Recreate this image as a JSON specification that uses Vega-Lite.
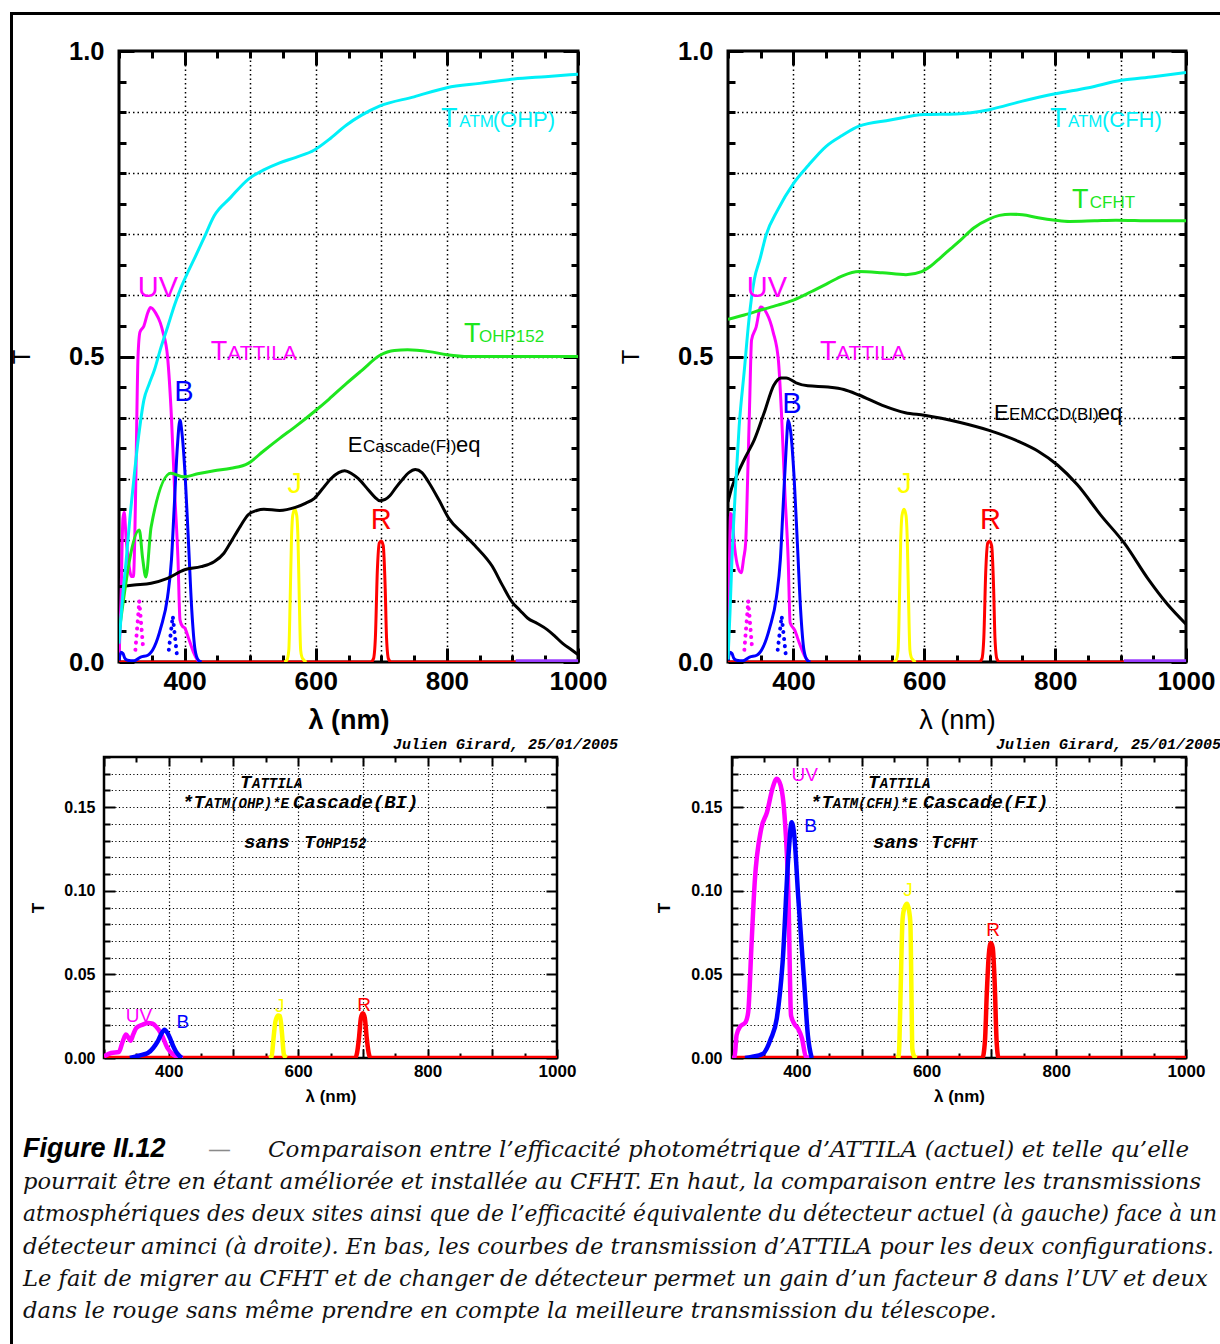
{
  "$schema": "https://vega.github.io/schema/vega-lite/v6.json",
  "background": "white",
  "padding": {"left": 9, "top": 12, "right": 0, "bottom": 0},
  "config": {"view": {"stroke": null}},
  "datasets": {
    "tl": [
      {"s":"R","x":300,"y":0},{"s":"R","x":684,"y":0},{"s":"R","x":688,"y":0.005},{"s":"R","x":691,"y":0.04},{"s":"R","x":694,"y":0.15},{"s":"R","x":697,"y":0.195},{"s":"R","x":700,"y":0.198},{"s":"R","x":703,"y":0.19},{"s":"R","x":706,"y":0.12},{"s":"R","x":708,"y":0.04},{"s":"R","x":711,"y":0.005},{"s":"R","x":715,"y":0},{"s":"R","x":1000,"y":0},
      {"s":"J","x":552,"y":0},{"s":"J","x":556,"y":0.003},{"s":"J","x":559,"y":0.02},{"s":"J","x":561,"y":0.1},{"s":"J","x":563,"y":0.2},{"s":"J","x":565,"y":0.24},{"s":"J","x":568,"y":0.25},{"s":"J","x":571,"y":0.24},{"s":"J","x":573,"y":0.2},{"s":"J","x":575,"y":0.1},{"s":"J","x":577,"y":0.02},{"s":"J","x":579,"y":0.008},{"s":"J","x":582,"y":0.003},{"s":"J","x":586,"y":0},
      {"s":"UV","x":300,"y":0.003},{"s":"UV","x":303,"y":0.1},{"s":"UV","x":306,"y":0.235},{"s":"UV","x":308,"y":0.245},{"s":"UV","x":311,"y":0.2},{"s":"UV","x":315,"y":0.16},{"s":"UV","x":319,"y":0.14},{"s":"UV","x":322,"y":0.14},{"s":"UV","x":324,"y":0.2},{"s":"UV","x":326,"y":0.32},{"s":"UV","x":329,"y":0.5},{"s":"UV","x":332,"y":0.54},{"s":"UV","x":338,"y":0.55},{"s":"UV","x":344,"y":0.572},{"s":"UV","x":348,"y":0.58},{"s":"UV","x":356,"y":0.571},{"s":"UV","x":363,"y":0.555},{"s":"UV","x":367,"y":0.54},{"s":"UV","x":374,"y":0.5},{"s":"UV","x":380,"y":0.4},{"s":"UV","x":385,"y":0.276},{"s":"UV","x":390,"y":0.167},{"s":"UV","x":393,"y":0.069},{"s":"UV","x":397,"y":0.058},{"s":"UV","x":400,"y":0.056},{"s":"UV","x":407,"y":0.036},{"s":"UV","x":414,"y":0.015},{"s":"UV","x":420,"y":0.003},{"s":"UV","x":425,"y":0},
      {"s":"B","x":300,"y":0.003},{"s":"B","x":303,"y":0.016},{"s":"B","x":306,"y":0.014},{"s":"B","x":309,"y":0.006},{"s":"B","x":313,"y":0.003},{"s":"B","x":323,"y":0.002},{"s":"B","x":333,"y":0.008},{"s":"B","x":344,"y":0.011},{"s":"B","x":354,"y":0.025},{"s":"B","x":364,"y":0.057},{"s":"B","x":374,"y":0.106},{"s":"B","x":380,"y":0.167},{"s":"B","x":384,"y":0.249},{"s":"B","x":389,"y":0.352},{"s":"B","x":393,"y":0.396},{"s":"B","x":396,"y":0.375},{"s":"B","x":401,"y":0.303},{"s":"B","x":406,"y":0.195},{"s":"B","x":411,"y":0.085},{"s":"B","x":416,"y":0.02},{"s":"B","x":421,"y":0.003},{"s":"B","x":426,"y":0},
      {"s":"E","x":300,"y":0.123},{"s":"E","x":323,"y":0.126},{"s":"E","x":349,"y":0.129},{"s":"E","x":374,"y":0.137},{"s":"E","x":400,"y":0.151},{"s":"E","x":425,"y":0.156},{"s":"E","x":445,"y":0.164},{"s":"E","x":460,"y":0.178},{"s":"E","x":471,"y":0.197},{"s":"E","x":485,"y":0.222},{"s":"E","x":497,"y":0.241},{"s":"E","x":510,"y":0.248},{"s":"E","x":521,"y":0.25},{"s":"E","x":545,"y":0.248},{"s":"E","x":569,"y":0.253},{"s":"E","x":585,"y":0.26},{"s":"E","x":598,"y":0.268},{"s":"E","x":610,"y":0.283},{"s":"E","x":623,"y":0.3},{"s":"E","x":635,"y":0.31},{"s":"E","x":644,"y":0.313},{"s":"E","x":655,"y":0.308},{"s":"E","x":665,"y":0.3},{"s":"E","x":680,"y":0.282},{"s":"E","x":690,"y":0.27},{"s":"E","x":698,"y":0.264},{"s":"E","x":706,"y":0.266},{"s":"E","x":713,"y":0.272},{"s":"E","x":722,"y":0.285},{"s":"E","x":731,"y":0.297},{"s":"E","x":742,"y":0.31},{"s":"E","x":752,"y":0.315},{"s":"E","x":762,"y":0.31},{"s":"E","x":773,"y":0.293},{"s":"E","x":788,"y":0.265},{"s":"E","x":803,"y":0.235},{"s":"E","x":825,"y":0.21},{"s":"E","x":845,"y":0.188},{"s":"E","x":869,"y":0.157},{"s":"E","x":885,"y":0.125},{"s":"E","x":899,"y":0.099},{"s":"E","x":912,"y":0.084},{"s":"E","x":923,"y":0.072},{"s":"E","x":938,"y":0.063},{"s":"E","x":953,"y":0.053},{"s":"E","x":965,"y":0.042},{"s":"E","x":977,"y":0.03},{"s":"E","x":990,"y":0.02},{"s":"E","x":1000,"y":0.012},
      {"s":"Ttel","x":300,"y":0.047},{"s":"Ttel","x":331,"y":0.216},{"s":"Ttel","x":336,"y":0.17},{"s":"Ttel","x":341,"y":0.139},{"s":"Ttel","x":349,"y":0.221},{"s":"Ttel","x":379,"y":0.309},{"s":"Ttel","x":399,"y":0.303},{"s":"Ttel","x":420,"y":0.308},{"s":"Ttel","x":445,"y":0.313},{"s":"Ttel","x":471,"y":0.317},{"s":"Ttel","x":497,"y":0.325},{"s":"Ttel","x":520,"y":0.345},{"s":"Ttel","x":545,"y":0.366},{"s":"Ttel","x":570,"y":0.386},{"s":"Ttel","x":598,"y":0.41},{"s":"Ttel","x":620,"y":0.43},{"s":"Ttel","x":647,"y":0.456},{"s":"Ttel","x":670,"y":0.477},{"s":"Ttel","x":698,"y":0.502},{"s":"Ttel","x":720,"y":0.51},{"s":"Ttel","x":740,"y":0.511},{"s":"Ttel","x":773,"y":0.508},{"s":"Ttel","x":800,"y":0.503},{"s":"Ttel","x":833,"y":0.5},{"s":"Ttel","x":870,"y":0.5},{"s":"Ttel","x":920,"y":0.5},{"s":"Ttel","x":1000,"y":0.5},
      {"s":"TATM","x":300,"y":0.03},{"s":"TATM","x":305,"y":0.1},{"s":"TATM","x":311,"y":0.167},{"s":"TATM","x":317,"y":0.24},{"s":"TATM","x":323,"y":0.303},{"s":"TATM","x":330,"y":0.37},{"s":"TATM","x":338,"y":0.429},{"s":"TATM","x":346,"y":0.455},{"s":"TATM","x":354,"y":0.478},{"s":"TATM","x":364,"y":0.515},{"s":"TATM","x":374,"y":0.548},{"s":"TATM","x":385,"y":0.585},{"s":"TATM","x":395,"y":0.614},{"s":"TATM","x":405,"y":0.638},{"s":"TATM","x":414,"y":0.658},{"s":"TATM","x":430,"y":0.695},{"s":"TATM","x":445,"y":0.73},{"s":"TATM","x":470,"y":0.76},{"s":"TATM","x":497,"y":0.79},{"s":"TATM","x":520,"y":0.805},{"s":"TATM","x":545,"y":0.817},{"s":"TATM","x":570,"y":0.826},{"s":"TATM","x":598,"y":0.838},{"s":"TATM","x":620,"y":0.855},{"s":"TATM","x":647,"y":0.879},{"s":"TATM","x":670,"y":0.895},{"s":"TATM","x":698,"y":0.91},{"s":"TATM","x":750,"y":0.925},{"s":"TATM","x":800,"y":0.94},{"s":"TATM","x":850,"y":0.947},{"s":"TATM","x":902,"y":0.954},{"s":"TATM","x":950,"y":0.958},{"s":"TATM","x":1000,"y":0.962},
      {"s":"V","x":905,"y":0.002},{"s":"V","x":1000,"y":0.002},
      {"s":"UVdot","x":325,"y":0.02},{"s":"UVdot","x":331,"y":0.1},{"s":"UVdot","x":337,"y":0.02},
      {"s":"Bdot","x":376,"y":0.02},{"s":"Bdot","x":382,"y":0.075},{"s":"Bdot","x":389,"y":0.005}
    ],
    "tr": [
      {"s":"R","x":300,"y":0},{"s":"R","x":684,"y":0},{"s":"R","x":688,"y":0.005},{"s":"R","x":691,"y":0.04},{"s":"R","x":694,"y":0.15},{"s":"R","x":697,"y":0.195},{"s":"R","x":700,"y":0.198},{"s":"R","x":703,"y":0.19},{"s":"R","x":706,"y":0.12},{"s":"R","x":708,"y":0.04},{"s":"R","x":711,"y":0.005},{"s":"R","x":715,"y":0},{"s":"R","x":1000,"y":0},
      {"s":"J","x":553,"y":0},{"s":"J","x":557,"y":0.003},{"s":"J","x":560,"y":0.02},{"s":"J","x":562,"y":0.1},{"s":"J","x":564,"y":0.2},{"s":"J","x":566,"y":0.24},{"s":"J","x":569,"y":0.25},{"s":"J","x":572,"y":0.24},{"s":"J","x":574,"y":0.2},{"s":"J","x":576,"y":0.1},{"s":"J","x":578,"y":0.02},{"s":"J","x":580,"y":0.008},{"s":"J","x":583,"y":0.003},{"s":"J","x":587,"y":0},
      {"s":"UV","x":300,"y":0.004},{"s":"UV","x":302,"y":0.15},{"s":"UV","x":304,"y":0.243},{"s":"UV","x":306,"y":0.24},{"s":"UV","x":309,"y":0.2},{"s":"UV","x":314,"y":0.16},{"s":"UV","x":320,"y":0.146},{"s":"UV","x":324,"y":0.17},{"s":"UV","x":327,"y":0.195},{"s":"UV","x":330,"y":0.3},{"s":"UV","x":333,"y":0.42},{"s":"UV","x":336,"y":0.527},{"s":"UV","x":343,"y":0.548},{"s":"UV","x":350,"y":0.581},{"s":"UV","x":359,"y":0.571},{"s":"UV","x":369,"y":0.54},{"s":"UV","x":377,"y":0.494},{"s":"UV","x":382,"y":0.401},{"s":"UV","x":387,"y":0.276},{"s":"UV","x":392,"y":0.167},{"s":"UV","x":395,"y":0.064},{"s":"UV","x":402,"y":0.052},{"s":"UV","x":409,"y":0.031},{"s":"UV","x":418,"y":0.008},{"s":"UV","x":424,"y":0},
      {"s":"B","x":300,"y":0.003},{"s":"B","x":303,"y":0.016},{"s":"B","x":306,"y":0.014},{"s":"B","x":309,"y":0.006},{"s":"B","x":313,"y":0.003},{"s":"B","x":323,"y":0.002},{"s":"B","x":333,"y":0.008},{"s":"B","x":344,"y":0.011},{"s":"B","x":354,"y":0.025},{"s":"B","x":364,"y":0.057},{"s":"B","x":374,"y":0.106},{"s":"B","x":380,"y":0.167},{"s":"B","x":384,"y":0.249},{"s":"B","x":389,"y":0.352},{"s":"B","x":392,"y":0.396},{"s":"B","x":396,"y":0.375},{"s":"B","x":401,"y":0.303},{"s":"B","x":406,"y":0.195},{"s":"B","x":411,"y":0.085},{"s":"B","x":416,"y":0.02},{"s":"B","x":421,"y":0.003},{"s":"B","x":426,"y":0},
      {"s":"E","x":300,"y":0.262},{"s":"E","x":306,"y":0.286},{"s":"E","x":315,"y":0.309},{"s":"E","x":327,"y":0.336},{"s":"E","x":340,"y":0.363},{"s":"E","x":355,"y":0.407},{"s":"E","x":370,"y":0.453},{"s":"E","x":381,"y":0.465},{"s":"E","x":389,"y":0.465},{"s":"E","x":404,"y":0.457},{"s":"E","x":422,"y":0.452},{"s":"E","x":453,"y":0.45},{"s":"E","x":477,"y":0.446},{"s":"E","x":500,"y":0.437},{"s":"E","x":536,"y":0.42},{"s":"E","x":571,"y":0.408},{"s":"E","x":600,"y":0.404},{"s":"E","x":655,"y":0.392},{"s":"E","x":699,"y":0.379},{"s":"E","x":744,"y":0.361},{"s":"E","x":774,"y":0.345},{"s":"E","x":804,"y":0.322},{"s":"E","x":834,"y":0.29},{"s":"E","x":870,"y":0.24},{"s":"E","x":906,"y":0.194},{"s":"E","x":942,"y":0.136},{"s":"E","x":972,"y":0.094},{"s":"E","x":1000,"y":0.062},
      {"s":"Ttel","x":300,"y":0.561},{"s":"Ttel","x":325,"y":0.568},{"s":"Ttel","x":350,"y":0.576},{"s":"Ttel","x":376,"y":0.584},{"s":"Ttel","x":399,"y":0.592},{"s":"Ttel","x":427,"y":0.606},{"s":"Ttel","x":453,"y":0.62},{"s":"Ttel","x":475,"y":0.632},{"s":"Ttel","x":500,"y":0.639},{"s":"Ttel","x":536,"y":0.637},{"s":"Ttel","x":572,"y":0.634},{"s":"Ttel","x":596,"y":0.639},{"s":"Ttel","x":610,"y":0.648},{"s":"Ttel","x":625,"y":0.662},{"s":"Ttel","x":640,"y":0.676},{"s":"Ttel","x":655,"y":0.69},{"s":"Ttel","x":675,"y":0.71},{"s":"Ttel","x":699,"y":0.725},{"s":"Ttel","x":715,"y":0.731},{"s":"Ttel","x":732,"y":0.733},{"s":"Ttel","x":750,"y":0.732},{"s":"Ttel","x":774,"y":0.727},{"s":"Ttel","x":800,"y":0.723},{"s":"Ttel","x":822,"y":0.721},{"s":"Ttel","x":860,"y":0.722},{"s":"Ttel","x":893,"y":0.723},{"s":"Ttel","x":950,"y":0.722},{"s":"Ttel","x":1000,"y":0.722},
      {"s":"TATM","x":300,"y":0.004},{"s":"TATM","x":303,"y":0.08},{"s":"TATM","x":306,"y":0.167},{"s":"TATM","x":311,"y":0.276},{"s":"TATM","x":317,"y":0.385},{"s":"TATM","x":325,"y":0.478},{"s":"TATM","x":332,"y":0.56},{"s":"TATM","x":340,"y":0.625},{"s":"TATM","x":349,"y":0.66},{"s":"TATM","x":358,"y":0.698},{"s":"TATM","x":376,"y":0.74},{"s":"TATM","x":400,"y":0.783},{"s":"TATM","x":423,"y":0.813},{"s":"TATM","x":450,"y":0.844},{"s":"TATM","x":475,"y":0.862},{"s":"TATM","x":500,"y":0.877},{"s":"TATM","x":548,"y":0.887},{"s":"TATM","x":600,"y":0.896},{"s":"TATM","x":649,"y":0.897},{"s":"TATM","x":699,"y":0.904},{"s":"TATM","x":750,"y":0.918},{"s":"TATM","x":800,"y":0.93},{"s":"TATM","x":851,"y":0.94},{"s":"TATM","x":901,"y":0.952},{"s":"TATM","x":950,"y":0.958},{"s":"TATM","x":1000,"y":0.965},
      {"s":"V","x":905,"y":0.002},{"s":"V","x":1000,"y":0.002},
      {"s":"UVdot","x":325,"y":0.02},{"s":"UVdot","x":331,"y":0.1},{"s":"UVdot","x":337,"y":0.02},
      {"s":"Bdot","x":376,"y":0.02},{"s":"Bdot","x":382,"y":0.075},{"s":"Bdot","x":389,"y":0.005}
    ],
    "bl": [
      {"s":"R","x":300,"y":0},{"s":"R","x":688,"y":0},{"s":"R","x":691,"y":0.003},{"s":"R","x":694,"y":0.012},{"s":"R","x":697,"y":0.024},{"s":"R","x":700,"y":0.0268},{"s":"R","x":703,"y":0.024},{"s":"R","x":706,"y":0.012},{"s":"R","x":709,"y":0.003},{"s":"R","x":712,"y":0},{"s":"R","x":1000,"y":0},
      {"s":"J","x":555,"y":0},{"s":"J","x":559,"y":0.001},{"s":"J","x":562,"y":0.012},{"s":"J","x":565,"y":0.022},{"s":"J","x":569,"y":0.0254},{"s":"J","x":572,"y":0.025},{"s":"J","x":575,"y":0.015},{"s":"J","x":578,"y":0.002},{"s":"J","x":582,"y":0},
      {"s":"UV","x":300,"y":0.001},{"s":"UV","x":311,"y":0.003},{"s":"UV","x":323,"y":0.0036},{"s":"UV","x":329,"y":0.01},{"s":"UV","x":334,"y":0.014},{"s":"UV","x":338,"y":0.012},{"s":"UV","x":341,"y":0.0103},{"s":"UV","x":345,"y":0.014},{"s":"UV","x":350,"y":0.018},{"s":"UV","x":360,"y":0.02},{"s":"UV","x":368,"y":0.021},{"s":"UV","x":375,"y":0.0205},{"s":"UV","x":380,"y":0.019},{"s":"UV","x":389,"y":0.014},{"s":"UV","x":398,"y":0.006},{"s":"UV","x":407,"y":0.002},{"s":"UV","x":422,"y":0},
      {"s":"B","x":340,"y":0},{"s":"B","x":350,"y":0.001},{"s":"B","x":360,"y":0.002},{"s":"B","x":368,"y":0.003},{"s":"B","x":376,"y":0.006},{"s":"B","x":383,"y":0.0099},{"s":"B","x":388,"y":0.014},{"s":"B","x":393.5,"y":0.0169},{"s":"B","x":398,"y":0.015},{"s":"B","x":402,"y":0.0119},{"s":"B","x":407,"y":0.007},{"s":"B","x":411,"y":0.004},{"s":"B","x":416,"y":0.0015},{"s":"B","x":420,"y":0}
    ],
    "br": [
      {"s":"R","x":300,"y":0},{"s":"R","x":686,"y":0},{"s":"R","x":690,"y":0.01},{"s":"R","x":693,"y":0.04},{"s":"R","x":696,"y":0.062},{"s":"R","x":699,"y":0.0687},{"s":"R","x":702,"y":0.066},{"s":"R","x":705,"y":0.045},{"s":"R","x":708,"y":0.01},{"s":"R","x":711,"y":0},{"s":"R","x":1000,"y":0},
      {"s":"J","x":553,"y":0},{"s":"J","x":557,"y":0.001},{"s":"J","x":558,"y":0.0076},{"s":"J","x":560,"y":0.04},{"s":"J","x":563,"y":0.083},{"s":"J","x":566,"y":0.09},{"s":"J","x":570,"y":0.0922},{"s":"J","x":573,"y":0.088},{"s":"J","x":575,"y":0.081},{"s":"J","x":577,"y":0.03},{"s":"J","x":578,"y":0.0056},{"s":"J","x":581,"y":0.001},{"s":"J","x":585,"y":0},
      {"s":"UV","x":300,"y":0},{"s":"UV","x":304,"y":0.0006},{"s":"UV","x":307,"y":0.0135},{"s":"UV","x":312,"y":0.0185},{"s":"UV","x":321,"y":0.0215},{"s":"UV","x":325,"y":0.0275},{"s":"UV","x":330,"y":0.067},{"s":"UV","x":335,"y":0.105},{"s":"UV","x":345,"y":0.137},{"s":"UV","x":354,"y":0.147},{"s":"UV","x":363,"y":0.162},{"s":"UV","x":369,"y":0.167},{"s":"UV","x":375,"y":0.163},{"s":"UV","x":381,"y":0.145},{"s":"UV","x":387,"y":0.097},{"s":"UV","x":391,"y":0.0255},{"s":"UV","x":396,"y":0.0205},{"s":"UV","x":402,"y":0.0175},{"s":"UV","x":408,"y":0.0116},{"s":"UV","x":414,"y":0.0006},{"s":"UV","x":420,"y":0},
      {"s":"B","x":320,"y":0},{"s":"B","x":330,"y":0.0006},{"s":"B","x":348,"y":0.0026},{"s":"B","x":360,"y":0.0116},{"s":"B","x":369,"y":0.0235},{"s":"B","x":378,"y":0.057},{"s":"B","x":387,"y":0.121},{"s":"B","x":392,"y":0.141},{"s":"B","x":396,"y":0.133},{"s":"B","x":402,"y":0.097},{"s":"B","x":411,"y":0.047},{"s":"B","x":417,"y":0.0135},{"s":"B","x":423,"y":0}
    ],
    "tl_lab": [
      {"s":"TATM","t":"T","x":791,"y":0.8756,"k":"big"},{"s":"TATM","t":"ATM","x":819,"y":0.8756,"k":"sub"},{"s":"TATM","t":"(OHP)","x":870,"y":0.8756,"k":"mid"},
      {"s":"Ttel","t":"T","x":826,"y":0.524,"k":"big"},{"s":"Ttel","t":"OHP152","x":849,"y":0.524,"k":"sub"},
      {"s":"UV","t":"T","x":440,"y":0.494,"k":"big"},{"s":"UV","t":"ATTILA","x":465,"y":0.494,"k":"sub2"},
      {"s":"UV","t":"UV","x":359.5,"y":0.597,"k":"letter"},
      {"s":"B","t":"B","x":399,"y":0.427,"k":"letter"},
      {"s":"E","t":"E","x":649,"y":0.344,"k":"mid"},{"s":"E","t":"Cascade(FI)","x":672,"y":0.344,"k":"sub"},{"s":"E","t":"eq","x":814,"y":0.344,"k":"mid"},
      {"s":"J","t":"J","x":568,"y":0.277,"k":"letter"},
      {"s":"R","t":"R","x":700,"y":0.218,"k":"letter"}
    ],
    "tr_lab": [
      {"s":"TATM","t":"T","x":792,"y":0.8756,"k":"big"},{"s":"TATM","t":"ATM","x":819.5,"y":0.8756,"k":"sub"},{"s":"TATM","t":"(CFH)","x":871.5,"y":0.8756,"k":"mid"},
      {"s":"Ttel","t":"T","x":825.6,"y":0.743,"k":"big"},{"s":"Ttel","t":"CFHT","x":853,"y":0.743,"k":"sub"},
      {"s":"UV","t":"T","x":440.6,"y":0.494,"k":"big"},{"s":"UV","t":"ATTILA","x":465,"y":0.494,"k":"sub2"},
      {"s":"UV","t":"UV","x":359.6,"y":0.597,"k":"letter"},
      {"s":"B","t":"B","x":397.8,"y":0.4075,"k":"letter"},
      {"s":"E","t":"E","x":706.5,"y":0.396,"k":"mid"},{"s":"E","t":"EMCCD(BI)","x":729.4,"y":0.396,"k":"sub"},{"s":"E","t":"eq","x":865,"y":0.396,"k":"mid"},
      {"s":"J","t":"J","x":569.8,"y":0.277,"k":"letter"},
      {"s":"R","t":"R","x":701,"y":0.218,"k":"letter"}
    ],
    "bl_lab": [
      {"s":"UV","t":"UV","x":354,"y":0.0215,"k":"letter"},
      {"s":"B","t":"B","x":422,"y":0.018,"k":"letter"},
      {"s":"J","t":"J","x":571.4,"y":0.0275,"k":"letter"},
      {"s":"R","t":"R","x":701.8,"y":0.0283,"k":"letter"},
      {"s":"E","t":"T","x":510.2,"y":0.1615,"k":"mbig"},{"s":"E","t":"ATTILA","x":528.7,"y":0.1615,"k":"msub"},
      {"s":"E","t":"*T","x":420.5,"y":0.1495,"k":"mbig"},{"s":"E","t":"ATM(OHP)*E","x":456,"y":0.1495,"k":"msub"},{"s":"E","t":"Cascade(BI)","x":592,"y":0.1495,"k":"mbig"},
      {"s":"E","t":"sans","x":516.3,"y":0.1256,"k":"mbig"},{"s":"E","t":"T","x":609,"y":0.1256,"k":"mbig"},{"s":"E","t":"OHP152","x":627.6,"y":0.1256,"k":"msub"}
    ],
    "br_lab": [
      {"s":"UV","t":"UV","x":412,"y":0.1659,"k":"letter"},
      {"s":"B","t":"B","x":421,"y":0.1352,"k":"letter"},
      {"s":"J","t":"J","x":571.4,"y":0.0971,"k":"letter"},
      {"s":"R","t":"R","x":702.4,"y":0.0731,"k":"letter"},
      {"s":"E","t":"T","x":509.7,"y":0.1615,"k":"mbig"},{"s":"E","t":"ATTILA","x":528,"y":0.1615,"k":"msub"},
      {"s":"E","t":"*T","x":420.3,"y":0.1495,"k":"mbig"},{"s":"E","t":"ATM(CFH)*E","x":455.5,"y":0.1495,"k":"msub"},{"s":"E","t":"Cascade(FI)","x":594.5,"y":0.1495,"k":"mbig"},
      {"s":"E","t":"sans","x":517.4,"y":0.1256,"k":"mbig"},{"s":"E","t":"T","x":606.8,"y":0.1256,"k":"mbig"},{"s":"E","t":"CFHT","x":626,"y":0.1256,"k":"msub"}
    ],
    "cap": [
      {"line":0,"part":"head","text":"Figure II.12"},
      {"line":0,"part":"dash","text":"—"},
      {"line":0,"part":"first","text":"Comparaison entre l’efficacité photométrique d’ATTILA (actuel) et telle qu’elle"},
      {"line":1,"part":"body","text":"pourrait être en étant améliorée et installée au CFHT. En haut, la comparaison entre les transmissions"},
      {"line":2,"part":"tight","text":"atmosphériques des deux sites ainsi que de l’efficacité équivalente du détecteur actuel (à gauche) face à un"},
      {"line":3,"part":"body","text":"détecteur aminci (à droite). En bas, les courbes de transmission d’ATTILA pour les deux configurations."},
      {"line":4,"part":"body","text":"Le fait de migrer au CFHT et de changer de détecteur permet un gain d’un facteur 8 dans l’UV et deux"},
      {"line":5,"part":"body","text":"dans le rouge sans même prendre en compte la meilleure transmission du télescope."}
    ]
  },
  "bounds": "flush",
  "spacing": 0,
  "hconcat": [
    {"width": 1, "height": 1330, "view": {"stroke": "black", "strokeWidth": 2}, "data": {"values": []}, "mark": "point"},
    {
      "spacing": 22,
      "vconcat": [
        {"width": 1207, "height": 1, "view": {"stroke": "black", "strokeWidth": 2}, "data": {"values": []}, "mark": "point"},
        {
          "spacing": 0,
          "vconcat": [
            {
              "bounds": "flush",
              "spacing": 106,
              "hconcat": [
                {"width": 1, "height": 1, "data": {"values": []}, "mark": "point"},
                {
                  "bounds": "flush",
                  "spacing": 150,
                  "hconcat": [
                    {
                      "width": 459, "height": 611,
                      "view": {"stroke": "black", "strokeWidth": 3},
                      "layer": [
                        {
                          "data": {"name": "tl"},
                          "transform": [{"filter": "datum.s !== 'UVdot' && datum.s !== 'Bdot'"}],
                          "mark": {"type": "line", "strokeWidth": 3, "interpolate": "monotone", "clip": true, "strokeJoin": "round"},
                          "encoding": {
                            "x": {"field": "x", "type": "quantitative", "scale": {"domain": [300, 1000], "nice": false, "zero": false},
                              "axis": {"orient": "bottom", "values": [300,350,400,450,500,550,600,650,700,750,800,850,900,950,1000], "format": "d", "labelExpr": "datum.value % 200 === 0 ? datum.label : ''", "labelFont": "Liberation Sans", "labelFontSize": 26, "labelFontWeight": "bold", "labelColor": "black", "labelPadding": 20, "labelFlush": false, "labelOverlap": false, "domain": false, "tickColor": "black", "tickWidth": 3, "tickSize": {"condition": {"test": "datum.value % 200 === 0", "value": -14}, "value": -7}, "grid": true, "gridColor": "black", "gridWidth": 1.5, "gridDash": [1.5, 3], "gridOpacity": {"condition": {"test": "datum.value % 100 === 0 && datum.value > 300 && datum.value < 1000", "value": 1}, "value": 0}, "title": "λ (nm)", "titleFont": "Liberation Sans", "titleFontSize": 27, "titleFontWeight": "bold", "titleColor": "black", "titlePadding": 6}},
                            "y": {"field": "y", "type": "quantitative", "scale": {"domain": [0, 1], "nice": false},
                              "axis": {"orient": "left", "values": [0,0.05,0.1,0.15,0.2,0.25,0.3,0.35,0.4,0.45,0.5,0.55,0.6,0.65,0.7,0.75,0.8,0.85,0.9,0.95,1], "labelExpr": "(datum.value === 0 || datum.value === 0.5 || datum.value === 1) ? format(datum.value, '.1f') : ''", "labelFont": "Liberation Sans", "labelFontSize": 25.5, "labelFontWeight": "bold", "labelColor": "black", "labelPadding": 30, "labelFlush": false, "labelOverlap": false, "domain": false, "tickColor": "black", "tickWidth": 3, "tickSize": {"condition": {"test": "datum.value === 0 || datum.value === 0.5 || datum.value === 1", "value": -15}, "value": -7}, "grid": true, "gridColor": "black", "gridWidth": 1.5, "gridDash": [1.5, 3], "gridOpacity": {"condition": {"test": "datum.value > 0.02 && datum.value < 0.98 && abs(datum.value * 10 - round(datum.value * 10)) < 0.01", "value": 1}, "value": 0}, "title": "T", "titleFont": "Liberation Sans", "titleFontSize": 24, "titleFontWeight": "normal", "titleColor": "black", "titlePadding": 34}},
                            "color": {"field": "s", "type": "nominal", "legend": null, "scale": {"domain": ["TATM","Ttel","E","UV","B","J","R","UVdot","Bdot","V"], "range": ["#00F0F8","#1EE61E","#000000","#FF00FF","#0000FF","#FFFF00","#FF0000","#FF00FF","#0000FF","#9A3CFF"]}}
                          }
                        },
                        {
                          "data": {"name": "tl"},
                          "transform": [{"filter": "datum.s === 'UVdot' || datum.s === 'Bdot'"}],
                          "mark": {"type": "line", "strokeWidth": 4, "strokeCap": "round", "strokeDash": [0.1, 7], "clip": true},
                          "encoding": {
                            "x": {"field": "x", "type": "quantitative", "scale": {"domain": [300, 1000], "nice": false, "zero": false},
                              "axis": {"orient": "top", "values": [300,350,400,450,500,550,600,650,700,750,800,850,900,950,1000], "labels": false, "domain": false, "grid": false, "title": null, "tickColor": "black", "tickWidth": 3, "tickSize": {"condition": {"test": "datum.value % 200 === 0", "value": -14}, "value": -7}}},
                            "y": {"field": "y", "type": "quantitative", "scale": {"domain": [0, 1], "nice": false},
                              "axis": {"orient": "right", "values": [0,0.05,0.1,0.15,0.2,0.25,0.3,0.35,0.4,0.45,0.5,0.55,0.6,0.65,0.7,0.75,0.8,0.85,0.9,0.95,1], "labels": false, "domain": false, "grid": false, "title": null, "tickColor": "black", "tickWidth": 3, "tickSize": {"condition": {"test": "datum.value === 0 || datum.value === 0.5 || datum.value === 1", "value": -15}, "value": -7}}},
                            "color": {"field": "s", "type": "nominal", "legend": null}
                          }
                        },
                        {
                          "data": {"name": "tl_lab"},
                          "transform": [{"filter": "datum.k === 'big'"}],
                          "mark": {"type": "text", "align": "left", "baseline": "alphabetic", "font": "Liberation Sans", "fontSize": 27},
                          "encoding": {"x": {"field": "x", "type": "quantitative", "axis": null}, "y": {"field": "y", "type": "quantitative", "axis": null}, "text": {"field": "t"}, "color": {"field": "s", "type": "nominal", "legend": null}}
                        },
                        {
                          "data": {"name": "tl_lab"},
                          "transform": [{"filter": "datum.k === 'sub'"}],
                          "mark": {"type": "text", "align": "left", "baseline": "alphabetic", "font": "Liberation Sans", "fontSize": 17},
                          "encoding": {"x": {"field": "x", "type": "quantitative", "axis": null}, "y": {"field": "y", "type": "quantitative", "axis": null}, "text": {"field": "t"}, "color": {"field": "s", "type": "nominal", "legend": null}}
                        },
                        {
                          "data": {"name": "tl_lab"},
                          "transform": [{"filter": "datum.k === 'sub2'"}],
                          "mark": {"type": "text", "align": "left", "baseline": "alphabetic", "font": "Liberation Sans", "fontSize": 21},
                          "encoding": {"x": {"field": "x", "type": "quantitative", "axis": null}, "y": {"field": "y", "type": "quantitative", "axis": null}, "text": {"field": "t"}, "color": {"field": "s", "type": "nominal", "legend": null}}
                        },
                        {
                          "data": {"name": "tl_lab"},
                          "transform": [{"filter": "datum.k === 'mid'"}],
                          "mark": {"type": "text", "align": "left", "baseline": "alphabetic", "font": "Liberation Sans", "fontSize": 22},
                          "encoding": {"x": {"field": "x", "type": "quantitative", "axis": null}, "y": {"field": "y", "type": "quantitative", "axis": null}, "text": {"field": "t"}, "color": {"field": "s", "type": "nominal", "legend": null}}
                        },
                        {
                          "data": {"name": "tl_lab"},
                          "transform": [{"filter": "datum.k === 'letter'"}],
                          "mark": {"type": "text", "align": "center", "baseline": "alphabetic", "font": "Liberation Sans", "fontSize": 29},
                          "encoding": {"x": {"field": "x", "type": "quantitative", "axis": null}, "y": {"field": "y", "type": "quantitative", "axis": null}, "text": {"field": "t"}, "color": {"field": "s", "type": "nominal", "legend": null}}
                        }
                      ]
                    },
                    {
                      "width": 458, "height": 611,
                      "view": {"stroke": "black", "strokeWidth": 3},
                      "layer": [
                        {
                          "data": {"name": "tr"},
                          "transform": [{"filter": "datum.s !== 'UVdot' && datum.s !== 'Bdot'"}],
                          "mark": {"type": "line", "strokeWidth": 3, "interpolate": "monotone", "clip": true, "strokeJoin": "round"},
                          "encoding": {
                            "x": {"field": "x", "type": "quantitative", "scale": {"domain": [300, 1000], "nice": false, "zero": false},
                              "axis": {"orient": "bottom", "values": [300,350,400,450,500,550,600,650,700,750,800,850,900,950,1000], "format": "d", "labelExpr": "datum.value % 200 === 0 ? datum.label : ''", "labelFont": "Liberation Sans", "labelFontSize": 26, "labelFontWeight": "bold", "labelColor": "black", "labelPadding": 20, "labelFlush": false, "labelOverlap": false, "domain": false, "tickColor": "black", "tickWidth": 3, "tickSize": {"condition": {"test": "datum.value % 200 === 0", "value": -14}, "value": -7}, "grid": true, "gridColor": "black", "gridWidth": 1.5, "gridDash": [1.5, 3], "gridOpacity": {"condition": {"test": "datum.value % 100 === 0 && datum.value > 300 && datum.value < 1000", "value": 1}, "value": 0}, "title": "λ (nm)", "titleFont": "Liberation Sans", "titleFontSize": 27, "titleFontWeight": "normal", "titleColor": "black", "titlePadding": 6}},
                            "y": {"field": "y", "type": "quantitative", "scale": {"domain": [0, 1], "nice": false},
                              "axis": {"orient": "left", "values": [0,0.05,0.1,0.15,0.2,0.25,0.3,0.35,0.4,0.45,0.5,0.55,0.6,0.65,0.7,0.75,0.8,0.85,0.9,0.95,1], "labelExpr": "(datum.value === 0 || datum.value === 0.5 || datum.value === 1) ? format(datum.value, '.1f') : ''", "labelFont": "Liberation Sans", "labelFontSize": 25.5, "labelFontWeight": "bold", "labelColor": "black", "labelPadding": 30, "labelFlush": false, "labelOverlap": false, "domain": false, "tickColor": "black", "tickWidth": 3, "tickSize": {"condition": {"test": "datum.value === 0 || datum.value === 0.5 || datum.value === 1", "value": -15}, "value": -7}, "grid": true, "gridColor": "black", "gridWidth": 1.5, "gridDash": [1.5, 3], "gridOpacity": {"condition": {"test": "datum.value > 0.02 && datum.value < 0.98 && abs(datum.value * 10 - round(datum.value * 10)) < 0.01", "value": 1}, "value": 0}, "title": "T", "titleFont": "Liberation Sans", "titleFontSize": 24, "titleFontWeight": "normal", "titleColor": "black", "titlePadding": 34}},
                            "color": {"field": "s", "type": "nominal", "legend": null, "scale": {"domain": ["TATM","Ttel","E","UV","B","J","R","UVdot","Bdot","V"], "range": ["#00F0F8","#1EE61E","#000000","#FF00FF","#0000FF","#FFFF00","#FF0000","#FF00FF","#0000FF","#9A3CFF"]}}
                          }
                        },
                        {
                          "data": {"name": "tr"},
                          "transform": [{"filter": "datum.s === 'UVdot' || datum.s === 'Bdot'"}],
                          "mark": {"type": "line", "strokeWidth": 4, "strokeCap": "round", "strokeDash": [0.1, 7], "clip": true},
                          "encoding": {
                            "x": {"field": "x", "type": "quantitative", "scale": {"domain": [300, 1000], "nice": false, "zero": false},
                              "axis": {"orient": "top", "values": [300,350,400,450,500,550,600,650,700,750,800,850,900,950,1000], "labels": false, "domain": false, "grid": false, "title": null, "tickColor": "black", "tickWidth": 3, "tickSize": {"condition": {"test": "datum.value % 200 === 0", "value": -14}, "value": -7}}},
                            "y": {"field": "y", "type": "quantitative", "scale": {"domain": [0, 1], "nice": false},
                              "axis": {"orient": "right", "values": [0,0.05,0.1,0.15,0.2,0.25,0.3,0.35,0.4,0.45,0.5,0.55,0.6,0.65,0.7,0.75,0.8,0.85,0.9,0.95,1], "labels": false, "domain": false, "grid": false, "title": null, "tickColor": "black", "tickWidth": 3, "tickSize": {"condition": {"test": "datum.value === 0 || datum.value === 0.5 || datum.value === 1", "value": -15}, "value": -7}}},
                            "color": {"field": "s", "type": "nominal", "legend": null}
                          }
                        },
                        {
                          "data": {"name": "tr_lab"},
                          "transform": [{"filter": "datum.k === 'big'"}],
                          "mark": {"type": "text", "align": "left", "baseline": "alphabetic", "font": "Liberation Sans", "fontSize": 27},
                          "encoding": {"x": {"field": "x", "type": "quantitative", "axis": null}, "y": {"field": "y", "type": "quantitative", "axis": null}, "text": {"field": "t"}, "color": {"field": "s", "type": "nominal", "legend": null}}
                        },
                        {
                          "data": {"name": "tr_lab"},
                          "transform": [{"filter": "datum.k === 'sub'"}],
                          "mark": {"type": "text", "align": "left", "baseline": "alphabetic", "font": "Liberation Sans", "fontSize": 17},
                          "encoding": {"x": {"field": "x", "type": "quantitative", "axis": null}, "y": {"field": "y", "type": "quantitative", "axis": null}, "text": {"field": "t"}, "color": {"field": "s", "type": "nominal", "legend": null}}
                        },
                        {
                          "data": {"name": "tr_lab"},
                          "transform": [{"filter": "datum.k === 'sub2'"}],
                          "mark": {"type": "text", "align": "left", "baseline": "alphabetic", "font": "Liberation Sans", "fontSize": 21},
                          "encoding": {"x": {"field": "x", "type": "quantitative", "axis": null}, "y": {"field": "y", "type": "quantitative", "axis": null}, "text": {"field": "t"}, "color": {"field": "s", "type": "nominal", "legend": null}}
                        },
                        {
                          "data": {"name": "tr_lab"},
                          "transform": [{"filter": "datum.k === 'mid'"}],
                          "mark": {"type": "text", "align": "left", "baseline": "alphabetic", "font": "Liberation Sans", "fontSize": 22},
                          "encoding": {"x": {"field": "x", "type": "quantitative", "axis": null}, "y": {"field": "y", "type": "quantitative", "axis": null}, "text": {"field": "t"}, "color": {"field": "s", "type": "nominal", "legend": null}}
                        },
                        {
                          "data": {"name": "tr_lab"},
                          "transform": [{"filter": "datum.k === 'letter'"}],
                          "mark": {"type": "text", "align": "center", "baseline": "alphabetic", "font": "Liberation Sans", "fontSize": 29},
                          "encoding": {"x": {"field": "x", "type": "quantitative", "axis": null}, "y": {"field": "y", "type": "quantitative", "axis": null}, "text": {"field": "t"}, "color": {"field": "s", "type": "nominal", "legend": null}}
                        }
                      ]
                    }
                  ]
                }
              ]
            },
            {
              "spacing": 29,
              "vconcat": [
                {
                  "bounds": "flush",
                  "spacing": 91,
                  "hconcat": [
                    {"width": 1, "height": 1, "data": {"values": []}, "mark": "point"},
                    {
                      "bounds": "flush",
                      "spacing": 175,
                      "hconcat": [
                        {
                          "width": 453, "height": 301,
                          "view": {"stroke": "black", "strokeWidth": 2.5},
                          "title": {"text": "Julien Girard, 25/01/2005", "anchor": "end", "frame": "group", "dx": 61, "offset": -3, "font": "Liberation Mono", "fontSize": 15, "fontStyle": "italic", "fontWeight": "bold", "color": "black"},
                          "layer": [
                            {
                              "data": {"name": "bl"},
                              "mark": {"type": "line", "strokeWidth": 4.5, "interpolate": "monotone", "clip": true, "strokeJoin": "round"},
                              "encoding": {
                                "x": {"field": "x", "type": "quantitative", "scale": {"domain": [300, 1000], "nice": false, "zero": false},
                                  "axis": {"orient": "bottom", "values": [300,350,400,450,500,550,600,650,700,750,800,850,900,950,1000], "format": "d", "labelExpr": "datum.value % 200 === 0 ? datum.label : ''", "labelFont": "Liberation Sans", "labelFontSize": 17, "labelFontWeight": "bold", "labelColor": "black", "labelPadding": 14, "labelFlush": false, "labelOverlap": false, "domain": false, "tickColor": "black", "tickWidth": 2, "tickSize": {"condition": {"test": "datum.value % 100 === 0", "value": -9}, "value": -5}, "grid": true, "gridColor": "black", "gridWidth": 1.2, "gridDash": [1.2, 2.4], "gridOpacity": {"condition": {"test": "datum.value % 100 === 0 && datum.value > 300 && datum.value < 1000", "value": 1}, "value": 0}, "title": "λ (nm)", "titleFont": "Liberation Sans", "titleFontSize": 17, "titleFontWeight": "bold", "titleColor": "black", "titlePadding": 5}},
                                "y": {"field": "y", "type": "quantitative", "scale": {"domain": [0, 0.18], "nice": false},
                                  "axis": {"orient": "left", "values": [0,0.01,0.02,0.03,0.04,0.05,0.06,0.07,0.08,0.09,0.1,0.11,0.12,0.13,0.14,0.15,0.16,0.17,0.18], "labelExpr": "abs(datum.value * 20 - round(datum.value * 20)) < 0.001 ? format(datum.value, '.2f') : ''", "labelFont": "Liberation Sans", "labelFontSize": 16, "labelFontWeight": "bold", "labelColor": "black", "labelPadding": 20, "labelFlush": false, "labelOverlap": false, "domain": false, "tickColor": "black", "tickWidth": 2, "tickSize": {"condition": {"test": "abs(datum.value * 20 - round(datum.value * 20)) < 0.001", "value": -11}, "value": -6}, "grid": true, "gridColor": "black", "gridWidth": 1.2, "gridDash": [1.2, 2.4], "gridOpacity": {"condition": {"test": "datum.value > 0.005 && datum.value < 0.175", "value": 1}, "value": 0}, "title": "T", "titleFont": "Liberation Sans", "titleFontSize": 17, "titleFontWeight": "bold", "titleColor": "black", "titlePadding": 16}},
                                "color": {"field": "s", "type": "nominal", "legend": null, "scale": {"domain": ["TATM","Ttel","E","UV","B","J","R","UVdot","Bdot","V"], "range": ["#00F0F8","#1EE61E","#000000","#FF00FF","#0000FF","#FFFF00","#FF0000","#FF00FF","#0000FF","#9A3CFF"]}}
                              }
                            },
                            {
                              "data": {"name": "bl_lab"},
                              "transform": [{"filter": "datum.k === 'letter'"}],
                              "mark": {"type": "text", "align": "center", "baseline": "alphabetic", "font": "Liberation Sans", "fontSize": 19},
                              "encoding": {
                                "x": {"field": "x", "type": "quantitative", "scale": {"domain": [300, 1000], "nice": false, "zero": false},
                                  "axis": {"orient": "top", "values": [300,350,400,450,500,550,600,650,700,750,800,850,900,950,1000], "labels": false, "domain": false, "grid": false, "title": null, "tickColor": "black", "tickWidth": 2, "tickSize": {"condition": {"test": "datum.value % 100 === 0", "value": -9}, "value": -5}}},
                                "y": {"field": "y", "type": "quantitative", "scale": {"domain": [0, 0.18], "nice": false},
                                  "axis": {"orient": "right", "values": [0,0.01,0.02,0.03,0.04,0.05,0.06,0.07,0.08,0.09,0.1,0.11,0.12,0.13,0.14,0.15,0.16,0.17,0.18], "labels": false, "domain": false, "grid": false, "title": null, "tickColor": "black", "tickWidth": 2, "tickSize": {"condition": {"test": "abs(datum.value * 20 - round(datum.value * 20)) < 0.001", "value": -11}, "value": -6}}},
                                "text": {"field": "t"},
                                "color": {"field": "s", "type": "nominal", "legend": null}
                              }
                            },
                            {
                              "data": {"name": "bl_lab"},
                              "transform": [{"filter": "datum.k === 'mbig'"}],
                              "mark": {"type": "text", "align": "left", "baseline": "alphabetic", "font": "Liberation Mono", "fontSize": 19, "fontStyle": "italic", "fontWeight": "bold"},
                              "encoding": {"x": {"field": "x", "type": "quantitative", "axis": null}, "y": {"field": "y", "type": "quantitative", "axis": null}, "text": {"field": "t"}, "color": {"field": "s", "type": "nominal", "legend": null}}
                            },
                            {
                              "data": {"name": "bl_lab"},
                              "transform": [{"filter": "datum.k === 'msub'"}],
                              "mark": {"type": "text", "align": "left", "baseline": "alphabetic", "font": "Liberation Mono", "fontSize": 14, "fontStyle": "italic", "fontWeight": "bold"},
                              "encoding": {"x": {"field": "x", "type": "quantitative", "axis": null}, "y": {"field": "y", "type": "quantitative", "axis": null}, "text": {"field": "t"}, "color": {"field": "s", "type": "nominal", "legend": null}}
                            }
                          ]
                        },
                        {
                          "width": 454, "height": 301,
                          "view": {"stroke": "black", "strokeWidth": 2.5},
                          "title": {"text": "Julien Girard, 25/01/2005", "anchor": "end", "frame": "group", "dx": 35, "offset": -3, "font": "Liberation Mono", "fontSize": 15, "fontStyle": "italic", "fontWeight": "bold", "color": "black"},
                          "layer": [
                            {
                              "data": {"name": "br"},
                              "mark": {"type": "line", "strokeWidth": 4.5, "interpolate": "monotone", "clip": true, "strokeJoin": "round"},
                              "encoding": {
                                "x": {"field": "x", "type": "quantitative", "scale": {"domain": [300, 1000], "nice": false, "zero": false},
                                  "axis": {"orient": "bottom", "values": [300,350,400,450,500,550,600,650,700,750,800,850,900,950,1000], "format": "d", "labelExpr": "datum.value % 200 === 0 ? datum.label : ''", "labelFont": "Liberation Sans", "labelFontSize": 17, "labelFontWeight": "bold", "labelColor": "black", "labelPadding": 14, "labelFlush": false, "labelOverlap": false, "domain": false, "tickColor": "black", "tickWidth": 2, "tickSize": {"condition": {"test": "datum.value % 100 === 0", "value": -9}, "value": -5}, "grid": true, "gridColor": "black", "gridWidth": 1.2, "gridDash": [1.2, 2.4], "gridOpacity": {"condition": {"test": "datum.value % 100 === 0 && datum.value > 300 && datum.value < 1000", "value": 1}, "value": 0}, "title": "λ (nm)", "titleFont": "Liberation Sans", "titleFontSize": 17, "titleFontWeight": "bold", "titleColor": "black", "titlePadding": 5}},
                                "y": {"field": "y", "type": "quantitative", "scale": {"domain": [0, 0.18], "nice": false},
                                  "axis": {"orient": "left", "values": [0,0.01,0.02,0.03,0.04,0.05,0.06,0.07,0.08,0.09,0.1,0.11,0.12,0.13,0.14,0.15,0.16,0.17,0.18], "labelExpr": "abs(datum.value * 20 - round(datum.value * 20)) < 0.001 ? format(datum.value, '.2f') : ''", "labelFont": "Liberation Sans", "labelFontSize": 16, "labelFontWeight": "bold", "labelColor": "black", "labelPadding": 21, "labelFlush": false, "labelOverlap": false, "domain": false, "tickColor": "black", "tickWidth": 2, "tickSize": {"condition": {"test": "abs(datum.value * 20 - round(datum.value * 20)) < 0.001", "value": -11}, "value": -6}, "grid": true, "gridColor": "black", "gridWidth": 1.2, "gridDash": [1.2, 2.4], "gridOpacity": {"condition": {"test": "datum.value > 0.005 && datum.value < 0.175", "value": 1}, "value": 0}, "title": "T", "titleFont": "Liberation Sans", "titleFontSize": 17, "titleFontWeight": "bold", "titleColor": "black", "titlePadding": 17}},
                                "color": {"field": "s", "type": "nominal", "legend": null, "scale": {"domain": ["TATM","Ttel","E","UV","B","J","R","UVdot","Bdot","V"], "range": ["#00F0F8","#1EE61E","#000000","#FF00FF","#0000FF","#FFFF00","#FF0000","#FF00FF","#0000FF","#9A3CFF"]}}
                              }
                            },
                            {
                              "data": {"name": "br_lab"},
                              "transform": [{"filter": "datum.k === 'letter'"}],
                              "mark": {"type": "text", "align": "center", "baseline": "alphabetic", "font": "Liberation Sans", "fontSize": 19},
                              "encoding": {
                                "x": {"field": "x", "type": "quantitative", "scale": {"domain": [300, 1000], "nice": false, "zero": false},
                                  "axis": {"orient": "top", "values": [300,350,400,450,500,550,600,650,700,750,800,850,900,950,1000], "labels": false, "domain": false, "grid": false, "title": null, "tickColor": "black", "tickWidth": 2, "tickSize": {"condition": {"test": "datum.value % 100 === 0", "value": -9}, "value": -5}}},
                                "y": {"field": "y", "type": "quantitative", "scale": {"domain": [0, 0.18], "nice": false},
                                  "axis": {"orient": "right", "values": [0,0.01,0.02,0.03,0.04,0.05,0.06,0.07,0.08,0.09,0.1,0.11,0.12,0.13,0.14,0.15,0.16,0.17,0.18], "labels": false, "domain": false, "grid": false, "title": null, "tickColor": "black", "tickWidth": 2, "tickSize": {"condition": {"test": "abs(datum.value * 20 - round(datum.value * 20)) < 0.001", "value": -11}, "value": -6}}},
                                "text": {"field": "t"},
                                "color": {"field": "s", "type": "nominal", "legend": null}
                              }
                            },
                            {
                              "data": {"name": "br_lab"},
                              "transform": [{"filter": "datum.k === 'mbig'"}],
                              "mark": {"type": "text", "align": "left", "baseline": "alphabetic", "font": "Liberation Mono", "fontSize": 19, "fontStyle": "italic", "fontWeight": "bold"},
                              "encoding": {"x": {"field": "x", "type": "quantitative", "axis": null}, "y": {"field": "y", "type": "quantitative", "axis": null}, "text": {"field": "t"}, "color": {"field": "s", "type": "nominal", "legend": null}}
                            },
                            {
                              "data": {"name": "br_lab"},
                              "transform": [{"filter": "datum.k === 'msub'"}],
                              "mark": {"type": "text", "align": "left", "baseline": "alphabetic", "font": "Liberation Mono", "fontSize": 14, "fontStyle": "italic", "fontWeight": "bold"},
                              "encoding": {"x": {"field": "x", "type": "quantitative", "axis": null}, "y": {"field": "y", "type": "quantitative", "axis": null}, "text": {"field": "t"}, "color": {"field": "s", "type": "nominal", "legend": null}}
                            }
                          ]
                        }
                      ]
                    }
                  ]
                },
                {
                  "bounds": "flush",
                  "spacing": 10,
                  "hconcat": [
                    {"width": 1, "height": 1, "data": {"values": []}, "mark": "point"},
                    {
                      "width": 1195, "height": 161,
                      "data": {"name": "cap"},
                      "layer": [
                        {
                          "transform": [{"filter": "datum.part === 'head'"}],
                          "mark": {"type": "text", "align": "left", "baseline": "alphabetic", "font": "Liberation Sans", "fontSize": 27, "fontStyle": "italic", "fontWeight": "bold", "color": "black"},
                          "encoding": {"x": {"datum": 0, "type": "quantitative", "scale": {"domain": [0, 1]}, "axis": null}, "y": {"field": "line", "type": "quantitative", "scale": {"domain": [0, 5], "reverse": true}, "axis": null}, "text": {"field": "text"}}
                        },
                        {
                          "transform": [{"filter": "datum.part === 'dash'"}],
                          "mark": {"type": "text", "align": "left", "baseline": "alphabetic", "font": "DejaVu Serif", "fontSize": 23, "color": "#8a8a8a", "dx": 185},
                          "encoding": {"x": {"datum": 0, "type": "quantitative", "scale": {"domain": [0, 1]}, "axis": null}, "y": {"field": "line", "type": "quantitative", "scale": {"domain": [0, 5], "reverse": true}, "axis": null}, "text": {"field": "text"}}
                        },
                        {
                          "transform": [{"filter": "datum.part === 'first'"}],
                          "mark": {"type": "text", "align": "left", "baseline": "alphabetic", "font": "DejaVu Serif", "fontSize": 23, "fontStyle": "italic", "color": "#111111", "dx": 245},
                          "encoding": {"x": {"datum": 0, "type": "quantitative", "scale": {"domain": [0, 1]}, "axis": null}, "y": {"field": "line", "type": "quantitative", "scale": {"domain": [0, 5], "reverse": true}, "axis": null}, "text": {"field": "text"}}
                        },
                        {
                          "transform": [{"filter": "datum.part === 'body'"}],
                          "mark": {"type": "text", "align": "left", "baseline": "alphabetic", "font": "DejaVu Serif", "fontSize": 22.6, "fontStyle": "italic", "color": "#111111"},
                          "encoding": {"x": {"datum": 0, "type": "quantitative", "scale": {"domain": [0, 1]}, "axis": null}, "y": {"field": "line", "type": "quantitative", "scale": {"domain": [0, 5], "reverse": true}, "axis": null}, "text": {"field": "text"}}
                        },
                        {
                          "transform": [{"filter": "datum.part === 'tight'"}],
                          "mark": {"type": "text", "align": "left", "baseline": "alphabetic", "font": "DejaVu Serif", "fontSize": 21.8, "fontStyle": "italic", "color": "#111111"},
                          "encoding": {"x": {"datum": 0, "type": "quantitative", "scale": {"domain": [0, 1]}, "axis": null}, "y": {"field": "line", "type": "quantitative", "scale": {"domain": [0, 5], "reverse": true}, "axis": null}, "text": {"field": "text"}}
                        }
                      ]
                    }
                  ]
                }
              ]
            }
          ]
        }
      ]
    }
  ]
}
